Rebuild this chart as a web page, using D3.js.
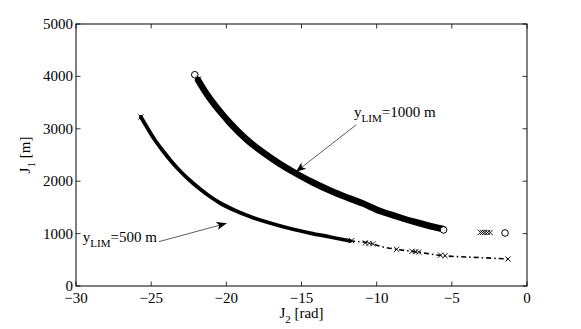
<!DOCTYPE html>
<html>
<head>
<meta charset="utf-8">
<script src="https://cdn.jsdelivr.net/npm/d3@7"></script>
<style>
body { margin: 0; background: #fff; }
text { font-family: "Liberation Serif", "Times New Roman", serif; fill: #000; }
</style>
</head>
<body>
<svg id="chart" width="581" height="329"></svg>
<script>
// tick values
var xTicks = [-30, -25, -20, -15, -10, -5, 0];
var yTicks = [0, 1000, 2000, 3000, 4000, 5000];

// y_LIM = 1000 m : dense band of points [J2, J1]
var band1000 = [[-21.88, 3931], [-21.35, 3683], [-20.82, 3473], [-20.28, 3282], [-19.76, 3111], [-18.69, 2805],
	[-17.56, 2548], [-16.43, 2328], [-15.30, 2137], [-14.24, 1975], [-13.10, 1822], [-11.97, 1689],
	[-10.91, 1574], [-9.78, 1431], [-8.65, 1326], [-7.59, 1231], [-6.59, 1155], [-5.59, 1088]];
var circles1000 = [[-22.10, 4032], [-5.55, 1070], [-1.46, 1012]];
var crosses1000 = [[-21.85, 3950], [-3.10, 1022], [-2.95, 1022], [-2.80, 1022], [-2.62, 1022], [-2.45, 1022]];

// y_LIM = 500 m : dense head and sparse dash-dot tail
var band500 = [[-25.68, 3225], [-25.21, 2996], [-24.75, 2786], [-24.21, 2576], [-23.68, 2385], [-23.08, 2195],
	[-22.42, 2013], [-21.75, 1851], [-21.09, 1708], [-20.42, 1584], [-19.42, 1441], [-18.43, 1326],
	[-17.10, 1202], [-15.76, 1097], [-14.43, 1011], [-13.10, 935], [-11.77, 859]];
var tail500 = [[-11.77, 859], [-10.44, 815], [-9.58, 745], [-8.67, 700], [-7.45, 655],
	[-5.59, 578], [-3.99, 553], [-2.26, 530], [-1.26, 515]];
var crosses500 = [[-25.68, 3225], [-11.66, 865], [-10.75, 822], [-10.50, 815], [-10.25, 805], [-8.67, 700],
	[-7.65, 662], [-7.40, 655], [-7.20, 648], [-5.75, 588], [-5.45, 580], [-1.26, 515]];

// annotations: text start [J2, J1], arrow from, arrow to
var labels = [
	{ main: "1000 m", at: [-11.50, 3217], from: [-11.37, 3073], to: [-15.37, 2180] },
	{ main: "500 m", at: [-29.55, 840], from: [-24.49, 846], to: [-19.98, 1196] }
];

(function () {
	"use strict";
	var svg = d3.select("#chart");
	var pLeft = 76, pRight = 527, pTop = 24, pBottom = 286;

	var xScale = d3.scaleLinear().domain([-30, 0]).range([pLeft, pRight]);
	var yScale = d3.scaleLinear().domain([0, 5000]).range([pBottom, pTop]);

	svg.append("defs").append("marker")
		.attr("id", "head")
		.attr("viewBox", "0 0 10 10")
		.attr("refX", 10)
		.attr("refY", 5)
		.attr("markerWidth", 10)
		.attr("markerHeight", 10)
		.attr("markerUnits", "userSpaceOnUse")
		.attr("orient", "auto")
		.append("path")
		.attr("d", "M0,1 L10,5 L0,9 L2.5,5 Z")
		.attr("fill", "#000");

	var line = d3.line()
		.x(function (d) { return xScale(d[0]); })
		.y(function (d) { return yScale(d[1]); })
		.curve(d3.curveMonotoneX);

	var plot = svg.append("g");

	// series 1000 m
	plot.append("path")
		.attr("d", line(band1000))
		.attr("fill", "none")
		.attr("stroke", "#000")
		.attr("stroke-width", 6.5)
		.attr("stroke-linecap", "round");

	plot.selectAll(".c1000").data(circles1000).enter()
		.append("circle")
		.attr("class", "c1000")
		.attr("cx", function (d) { return xScale(d[0]); })
		.attr("cy", function (d) { return yScale(d[1]); })
		.attr("r", 3.3)
		.attr("fill", "#fff")
		.attr("stroke", "#000")
		.attr("stroke-width", 1);

	// series 500 m
	plot.append("path")
		.attr("d", line(band500))
		.attr("fill", "none")
		.attr("stroke", "#000")
		.attr("stroke-width", 3.8)
		.attr("stroke-linecap", "round");

	plot.append("path")
		.attr("d", line(tail500))
		.attr("fill", "none")
		.attr("stroke", "#000")
		.attr("stroke-width", 1.6)
		.attr("stroke-dasharray", "5,3,1.5,3");

	var drawCross = function (data, cls) {
		plot.selectAll("." + cls).data(data).enter()
			.append("path")
			.attr("class", cls)
			.attr("transform", function (d) { return "translate(" + xScale(d[0]) + "," + yScale(d[1]) + ")"; })
			.attr("d", "M-2.6,-2.6L2.6,2.6M-2.6,2.6L2.6,-2.6")
			.attr("stroke", "#000")
			.attr("stroke-width", 0.9);
	};
	drawCross(crosses1000, "x1000");
	drawCross(crosses500, "x500");

	// box and ticks
	svg.append("rect")
		.attr("x", pLeft).attr("y", pTop)
		.attr("width", pRight - pLeft).attr("height", pBottom - pTop)
		.attr("fill", "none")
		.attr("stroke", "#000")
		.attr("stroke-width", 1);

	var tickLen = 4.5;
	var ticks = svg.append("g").attr("stroke", "#000").attr("stroke-width", 0.8);
	xTicks.forEach(function (t) {
		var x = xScale(t);
		ticks.append("line").attr("x1", x).attr("x2", x).attr("y1", pBottom).attr("y2", pBottom - tickLen);
		ticks.append("line").attr("x1", x).attr("x2", x).attr("y1", pTop).attr("y2", pTop + tickLen);
	});
	yTicks.forEach(function (t) {
		var y = yScale(t);
		ticks.append("line").attr("x1", pLeft).attr("x2", pLeft + tickLen).attr("y1", y).attr("y2", y);
		ticks.append("line").attr("x1", pRight).attr("x2", pRight - tickLen).attr("y1", y).attr("y2", y);
	});

	svg.selectAll(".xt").data(xTicks).enter()
		.append("text")
		.attr("class", "xt")
		.attr("x", function (d) { return xScale(d); })
		.attr("y", pBottom + 17)
		.attr("text-anchor", "middle")
		.style("font-size", "15px")
		.text(function (d) { return d < 0 ? "\u2212" + Math.abs(d) : d; });

	svg.selectAll(".yt").data(yTicks).enter()
		.append("text")
		.attr("class", "yt")
		.attr("x", pLeft - 3)
		.attr("y", function (d) { return yScale(d) + 5; })
		.attr("text-anchor", "end")
		.style("font-size", "15px")
		.text(function (d) { return d; });

	// axis labels
	var xl = svg.append("text")
		.attr("x", (pLeft + pRight) / 2)
		.attr("y", 318)
		.attr("text-anchor", "middle")
		.style("font-size", "15px");
	xl.append("tspan").text("J");
	xl.append("tspan").attr("dy", 5).style("font-size", "11px").text("2");
	xl.append("tspan").attr("dy", -5).text(" [rad]");

	var yl = svg.append("text")
		.attr("transform", "translate(30," + ((pTop + pBottom) / 2) + ") rotate(-90)")
		.attr("text-anchor", "middle")
		.style("font-size", "15px");
	yl.append("tspan").text("J");
	yl.append("tspan").attr("dy", 5).style("font-size", "11px").text("1");
	yl.append("tspan").attr("dy", -5).text(" [m]");

	// annotations
	labels.forEach(function (a) {
		svg.append("line")
			.attr("x1", xScale(a.from[0])).attr("y1", yScale(a.from[1]))
			.attr("x2", xScale(a.to[0])).attr("y2", yScale(a.to[1]))
			.attr("stroke", "#333")
			.attr("stroke-width", 0.8)
			.attr("marker-end", "url(#head)");
		var t = svg.append("text")
			.attr("x", xScale(a.at[0]))
			.attr("y", yScale(a.at[1]))
			.style("font-size", "15px");
		t.append("tspan").text("y");
		t.append("tspan").attr("dy", 5).style("font-size", "11px").text("LIM");
		t.append("tspan").attr("dy", -5).text("=" + a.main);
	});
})();
</script>
</body>
</html>
